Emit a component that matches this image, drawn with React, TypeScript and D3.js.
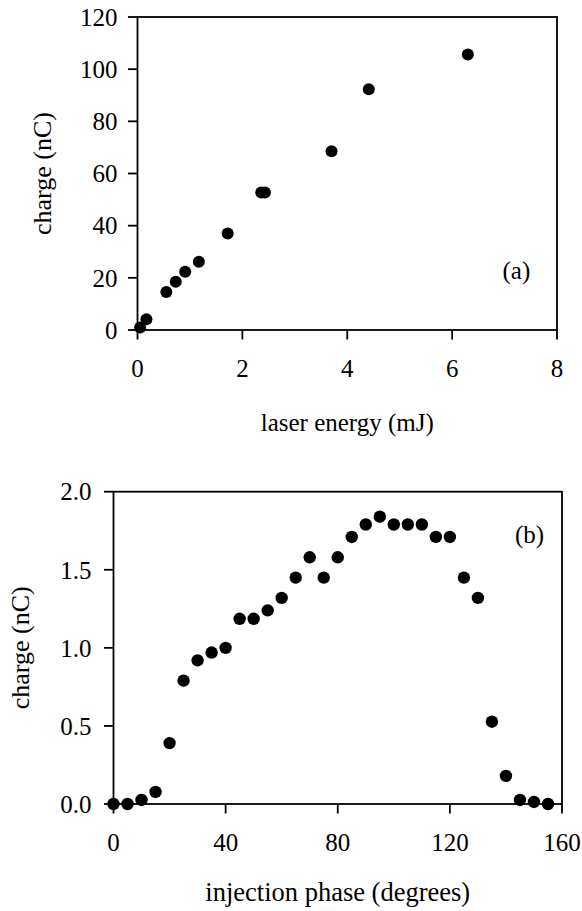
import React from "react";
import * as d3 from "d3";

// panel (a): charge vs laser energy
const energyMJ = [0.05, 0.17, 0.55, 0.73, 0.91, 1.17, 1.72, 2.36, 2.43, 3.7, 4.41, 6.3];
const chargeA = [1, 4.1, 14.6, 18.5, 22.3, 26.2, 37.0, 52.7, 52.7, 68.5, 92.3, 105.6];
const ticksAx = [0, 2, 4, 6, 8];
const ticksAy = [0, 20, 40, 60, 80, 100, 120];

// panel (b): charge vs injection phase
const phaseDeg = [0, 5, 10, 15, 20, 25, 30, 35, 40, 45, 50, 55, 60, 65, 70, 75, 80, 85, 90, 95, 100, 105, 110, 115, 120, 125, 130, 135, 140, 145, 150, 155];
const chargeB = [0, 0, 0.026, 0.077, 0.39, 0.79, 0.92, 0.97, 1.0, 1.186, 1.186, 1.24, 1.32, 1.45, 1.58, 1.45, 1.58, 1.71, 1.79, 1.84, 1.79, 1.79, 1.79, 1.71, 1.71, 1.45, 1.32, 0.527, 0.18, 0.026, 0.013, 0];
const ticksBx = [0, 40, 80, 120, 160];
const ticksBy = [0, 0.5, 1.0, 1.5, 2.0];

const FONT = "'Liberation Serif', 'Times New Roman', serif";

type PanelProps = {
  xs: number[];
  ys: number[];
  xDomain: [number, number];
  yDomain: [number, number];
  xRange: [number, number];
  yRange: [number, number];
  xTicks: number[];
  yTicks: number[];
  yFmt: (v: number) => string;
  xTitle: string;
  xTitleY: number;
  xTitleSize: number;
  yTitleX: number;
  tag: string;
  tagX: number;
  tagY: number;
  r: number;
  yLabelGap: number;
};

const Panel = (p: PanelProps) => {
  const x = d3.scaleLinear().domain(p.xDomain).range(p.xRange);
  const y = d3.scaleLinear().domain(p.yDomain).range(p.yRange);
  const [x0, x1] = p.xRange;
  const [yb, yt] = p.yRange;
  const sw = 1.8;
  const tick = 9.5;

  return (
    <g fontFamily={FONT} fill="#000">
      {/* frame */}
      <rect x={x0} y={yt} width={x1 - x0} height={yb - yt} fill="none" stroke="#000" strokeWidth={sw} />
      {/* y ticks */}
      {p.yTicks.map((t) => (
        <g key={"y" + t}>
          <line x1={x0 - tick} x2={x0} y1={y(t)} y2={y(t)} stroke="#000" strokeWidth={sw} />
          <text x={x0 - p.yLabelGap} y={y(t)} dy="0.35em" textAnchor="end" fontSize={25}>
            {p.yFmt(t)}
          </text>
        </g>
      ))}
      {/* x ticks */}
      {p.xTicks.map((t) => (
        <g key={"x" + t}>
          <line x1={x(t)} x2={x(t)} y1={yb} y2={yb + tick} stroke="#000" strokeWidth={sw} />
          <text x={x(t)} y={yb + 47} textAnchor="middle" fontSize={25}>
            {t}
          </text>
        </g>
      ))}
      {/* points */}
      {p.xs.map((v, i) => (
        <circle key={i} cx={x(v)} cy={y(p.ys[i])} r={p.r} fill="#000" />
      ))}
      <text x={(x0 + x1) / 2} y={p.xTitleY} textAnchor="middle" fontSize={p.xTitleSize}>
        {p.xTitle}
      </text>
      <text
        transform={`translate(${p.yTitleX},${(yb + yt) / 2}) rotate(-90)`}
        textAnchor="middle"
        fontSize={26}
      >
        charge (nC)
      </text>
      <text x={p.tagX} y={p.tagY} fontSize={25}>
        {p.tag}
      </text>
    </g>
  );
};

export default function App() {
  return (
    <svg
      width={582}
      height={911}
      style={{ position: "absolute", left: 0, top: 0, background: "#fff" }}
    >
      <Panel
        xs={energyMJ}
        ys={chargeA}
        xDomain={[0, 8]}
        yDomain={[0, 120]}
        xRange={[137.5, 557]}
        yRange={[330, 17]}
        xTicks={ticksAx}
        yTicks={ticksAy}
        yFmt={(v) => String(v)}
        xTitle="laser energy (mJ)"
        xTitleY={431}
        xTitleSize={25}
        yTitleX={51}
        tag="(a)"
        tagX={502.5}
        tagY={279}
        r={6}
        yLabelGap={20}
      />
      <Panel
        xs={phaseDeg}
        ys={chargeB}
        xDomain={[0, 160]}
        yDomain={[0, 2]}
        xRange={[113.5, 562]}
        yRange={[804, 491.7]}
        xTicks={ticksBx}
        yTicks={ticksBy}
        yFmt={(v) => v.toFixed(1)}
        xTitle="injection phase (degrees)"
        xTitleY={901}
        xTitleSize={26.5}
        yTitleX={29}
        tag="(b)"
        tagX={515}
        tagY={543}
        r={6.2}
        yLabelGap={22}
      />
    </svg>
  );
}
